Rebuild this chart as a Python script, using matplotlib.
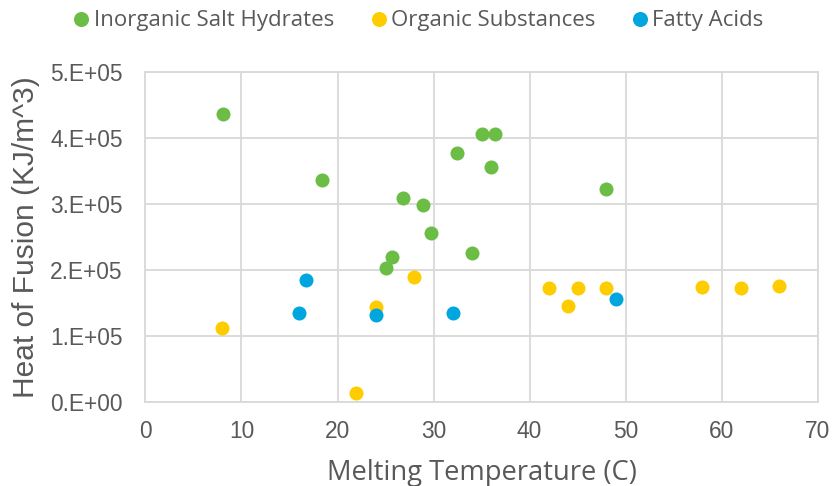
import numpy as np
import matplotlib.pyplot as plt
from matplotlib.ticker import FuncFormatter

# melting temperature (C) and heat of fusion (KJ/m^3)
salt_T = [8.1, 18.4, 26.8, 28.9, 29.7, 25.7, 25.0, 32.4, 35.0, 36.4, 36.0, 34.0, 48.0]
salt_H = [4.36e5, 3.36e5, 3.08e5, 2.98e5, 2.56e5, 2.19e5, 2.02e5, 3.77e5, 4.05e5, 4.05e5, 3.56e5, 2.26e5, 3.22e5]

org_T = [8.0, 21.9, 24.0, 28.0, 42.0, 44.0, 45.0, 48.0, 58.0, 62.0, 66.0]
org_H = [1.12e5, 0.13e5, 1.44e5, 1.89e5, 1.72e5, 1.45e5, 1.72e5, 1.72e5, 1.74e5, 1.73e5, 1.75e5]

fatty_T = [16.0, 16.7, 24.0, 32.0, 49.0]
fatty_H = [1.34e5, 1.84e5, 1.31e5, 1.35e5, 1.55e5]

txt = '#595959'
grid = '#d9d9d9'
plt.rcParams['font.family'] = ['Liberation Sans', 'DejaVu Sans']
other = ['Open Sans', 'DejaVu Sans']

fig = plt.figure(figsize=(8.36, 4.86), dpi=100)
ax = fig.add_axes([0.174, 0.1735, 0.804, 0.679])

ax.plot(salt_T, salt_H, 'o', ms=10.1, color='#6bbd45', mec='none', label='Inorganic Salt Hydrates', zorder=3)
ax.plot(org_T, org_H, 'o', ms=10.1, color='#ffcc00', mec='none', label='Organic Substances', zorder=3)
ax.plot(fatty_T, fatty_H, 'o', ms=10.1, color='#00a6dd', mec='none', label='Fatty Acids', zorder=3)

ax.set_xlim(0, 70)
ax.set_ylim(0, 5e5)
ax.set_xticks(np.arange(0, 71, 10))
ax.set_yticks(np.arange(0, 5.1e5, 1e5))
ax.yaxis.set_major_formatter(FuncFormatter(lambda v, p: '%d.E+%02d' % (round(v / 1e5), 5 if v else 0)))
ax.grid(True, color=grid, lw=1.3)
ax.set_axisbelow(True)
for s in ax.spines.values():
    s.set_color(grid)
    s.set_linewidth(1.3)
ax.tick_params(length=0, labelsize=16.4, colors=txt)
ax.tick_params(axis='x', pad=13)
ax.tick_params(axis='y', pad=16.5)

ax.set_xlabel('Melting Temperature (C)', fontsize=19.7, color=txt, family=other, labelpad=12)
ax.set_ylabel('Heat of Fusion (KJ/m^3)', fontsize=21.5, color=txt, labelpad=7)

fig.legend(loc='upper center', bbox_to_anchor=(0.5, 1.0), ncol=3, frameon=False,
           prop={'family': other, 'size': 16}, labelcolor=txt, handlelength=0.8,
           handleheight=0.6, handletextpad=0.16, columnspacing=1.6, markerscale=1.07,
           borderaxespad=0, borderpad=0.45)

fig.savefig('out.png', dpi=100)
